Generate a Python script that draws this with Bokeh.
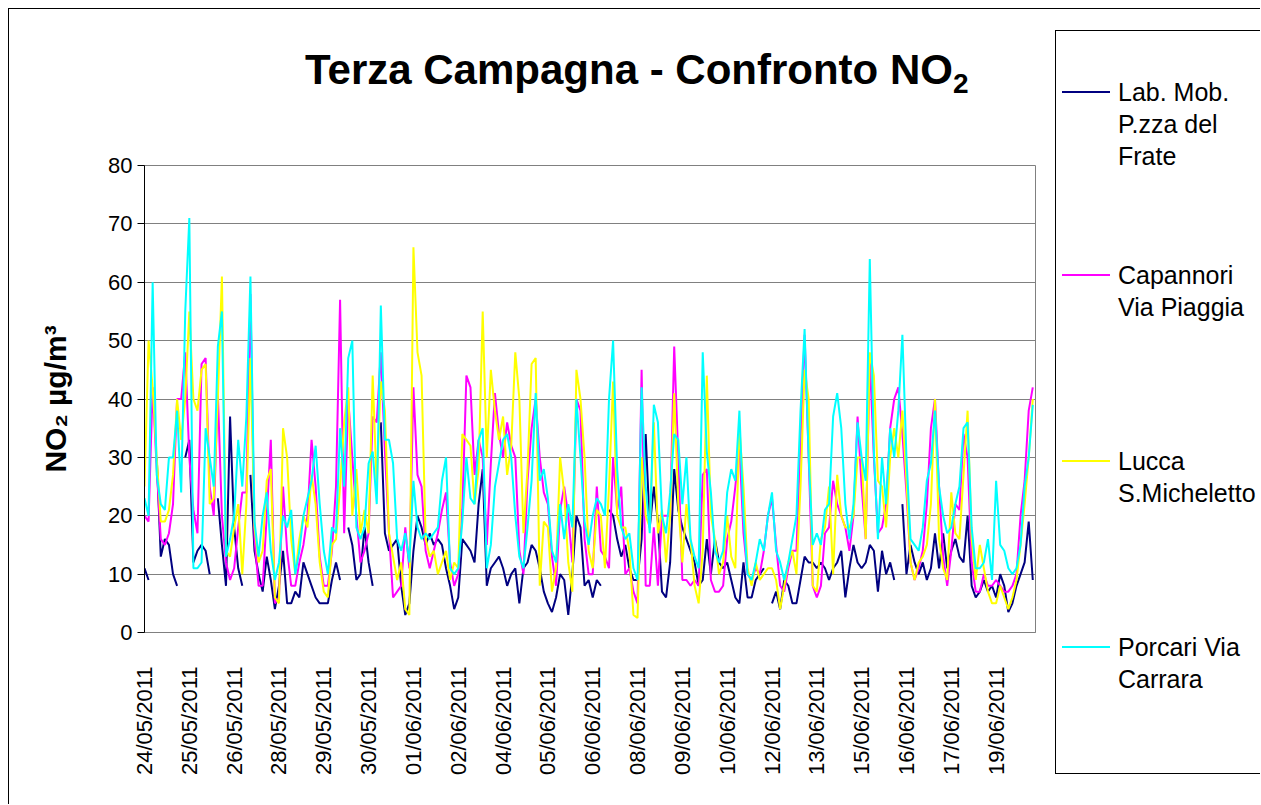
import numpy as np
from math import pi
from bokeh.plotting import figure
from bokeh.models import Range1d, FixedTicker, Div
from bokeh.layouts import row, column
from bokeh.embed import file_html
from bokeh.resources import INLINE

nan = float("nan")

# ---------------- data ----------------
title_main = "Terza Campagna - Confronto NO"
title_sub = "2"
y_label = "NO\u2082 \u00b5g/m\u00b3"

tick_labels = ["24/05/2011", "25/05/2011", "26/05/2011", "28/05/2011", "29/05/2011",
               "30/05/2011", "01/06/2011", "02/06/2011", "04/06/2011", "05/06/2011",
               "06/06/2011", "08/06/2011", "09/06/2011", "10/06/2011", "12/06/2011",
               "13/06/2011", "15/06/2011", "16/06/2011", "17/06/2011", "19/06/2011"]
label_every_hours = 33      # one date label every 33 hourly categories
sample_step_hours = 3       # values read every 3 hours
y_ticks = [0, 10, 20, 30, 40, 50, 60, 70, 80]

series_names = [["Lab. Mob.", "P.zza del", "Frate"],
                ["Capannori", "Via Piaggia"],
                ["Lucca", "S.Micheletto"],
                ["Porcari Via", "Carrara"]]
colors = ["#000080", "#FF00FF", "#FFFF00", "#00FFFF"]

lab_mob = [11, 9, nan, 30, 13, 16, 15, 10, 8, nan,
           30, 33, 12, 14, 15, 14, 10, nan, 23, 15,
           8, 37, 18, 11, 8, nan, 27, 14, 10, 7,
           13, 9, 4, 8, 14, 5, 5, 7, 6, 12,
           10, 8, 6, 5, 5, 5, 9, 12, 9, nan,
           18, 15, 9, 10, 18, 12, 8, nan, 36, 17,
           14, 15, 16, 8, 3, 5, 14, 20, 18, 15,
           17, 15, 16, 15, 11, 8, 4, 6, 16, 15,
           14, 12, 22, 28, 8, 11, 12, 13, 11, 8,
           10, 11, 5, 11, 12, 15, 14, 11, 7, 5,
           3.5, 6, 10, 9, 3, 10, 20, 18, 8, 9,
           6, 9, 8, nan, 21, 20, 16, 13, 15, 11,
           9, 9, 16, 34, 18, 25, 19, 7, 6, 12,
           28, 21, 18, 16, 14, 12, 8, 9, 16, 10,
           16, 12, 11, 12, 9, 6, 5, 12, 6, 6,
           9, 10, 11, nan, 5, 7, 4, 9, 8, 5,
           5, 9, 13, 12, 12, 11, 12, 11, 9, 11,
           12, 14, 6, 11, 15, 12, 11, 12, 15, 14,
           7, 14, 10, 12, 9, nan, 22, 10, 15, 12,
           10, 12, 9, 11, 17, 11, 17, 11, 14, 16,
           13, 12, 20, 8, 6, 7, 9, 7, 8, 6,
           10, 8, 3.5, 5, 8, 10, 12, 19, 9]

capannori = [20, 19, 42, 28, 16, 15, 17, 22, 40, 40,
             48, 30, 21, 17, 46, 47, 25, 20, 41, 20,
             12, 9, 11, 18, 24, 24, 58, 16, 8, 8,
             20, 33, 5, 6, 25, 14, 8, 8, 12, 15,
             20, 33, 25, 13, 8, 8, 14, 25, 57, 17,
             40, 30, 20, 12, 14, 17, 37, 36, 48, 31,
             17, 6, 7, 8, 18, 11, 42, 27, 25, 14,
             11, 14, 17, 21, 24, 12, 8, 10, 21, 44,
             42, 27, 33, 30, 15, 29, 41, 34, 30, 36,
             32, 30, 14, 10, 26, 35, 40, 30, 24, 22,
             13, 8, 21, 25, 20, 12, 40, 38, 16, 10,
             10, 25, 14, 13, 11, 30, 21, 25, 10, 11,
             7, 5, 45, 8, 8, 18, 8, 20, 20, 20,
             49, 30, 9, 9, 8, 9, 8, 27, 28, 9,
             7, 7, 8, 16, 19, 25, 32, 17, 10, 9,
             11, 10, 14, 20, 23, 15, 8, 7, 11, 14,
             14, 33, 51, 30, 8, 6, 8, 17, 18, 26,
             22, 20, 18, 14, 20, 37, 25, 16, 47, 30,
             17, 18, 22, 35, 40, 42, 34, 24, 12, 9,
             11, 14, 22, 35, 40, 25, 13, 8, 14, 22,
             21, 34, 30, 12, 7, 7, 10, 8, 8, 9,
             8, 7, 7, 8, 10, 20, 26, 38, 42]

lucca = [25, 50, 42, 30, 19, 19, 21, 27, 40, 33,
         40, 55, 40, 38, 45, 46, 22, 23, 40, 61,
         14, 13, 18, 22, 10, 22, 47, 18, 12, 14,
         26, 28, 6, 5, 35, 30, 16, 10, 16, 20,
         18, 27, 22, 12, 7, 6, 15, 16, 25, 36,
         42, 20, 28, 17, 21, 17, 44, 25, 43, 38,
         17, 13, 9, 12, 4, 3, 66, 48, 44, 16,
         13, 14, 10, 12, 14, 9, 12, 11, 34, 33,
         32, 22, 28, 55, 30, 45, 38, 33, 37, 27,
         32, 48, 40, 17, 28, 46, 47, 8, 19, 18,
         7, 11, 30, 24, 12, 7, 45, 40, 30, 14,
         11, 21, 20, 11, 25, 43, 20, 18, 18, 14,
         3, 2.5, 30, 20, 18, 36, 17, 21, 12, 20,
         41, 22, 12, 22, 16, 8, 5, 14, 44, 20,
         16, 10, 12, 20, 13, 11, 35, 25, 11, 8,
         12, 9, 10, 11, 11, 9, 4, 8, 12, 14,
         10, 25, 45, 40, 8, 7, 16, 18, 25, 10,
         27, 20, 18, 18, 20, 30, 30, 16, 48, 44,
         26, 25, 18, 30, 35, 30, 38, 26, 12, 9,
         12, 13, 15, 22, 40, 16, 11, 9, 24, 17,
         16, 27, 38, 16, 9, 15, 11, 7, 5, 5,
         8, 6, 4, 6, 9, 15, 22, 30, 40]

porcari = [23, 20, 60, 27, 22, 21, 30, 30, 38, 24,
           55, 71, 11, 11, 12, 35, 30, 25, 49, 55,
           13, 16, 20, 33, 25, 37, 61, 19, 13, 20,
           24, 14, 9, 12, 20, 18, 21, 10, 14, 20,
           23, 26, 32, 22, 14, 10, 18, 17, 35, 25,
           47, 50, 18, 16, 18, 29, 31, 22, 56, 33,
           33, 29, 16, 14, 17, 12, 26, 18, 16, 17,
           16, 17, 18, 26, 30, 11, 10, 11, 19, 30,
           23, 22, 33, 35, 11, 15, 25, 29, 33, 34,
           30, 20, 13, 11, 18, 26, 41, 26, 28, 23,
           14, 12, 22, 16, 22, 18, 40, 30, 19, 15,
           20, 23, 22, 20, 40, 50, 28, 18, 16, 17,
           11, 9, 42, 25, 17, 39, 36, 20, 17, 24,
           34, 33, 22, 30, 16, 13, 11, 48, 31, 24,
           14, 12, 14, 24, 28, 26, 38, 20, 10, 9,
           12, 16, 14, 20, 24, 14, 12, 9, 12, 16,
           20, 38, 52, 30, 15, 17, 15, 21, 22, 37,
           41, 35, 22, 16, 22, 36, 30, 26, 64, 31,
           16, 30, 22, 35, 30, 38, 51, 30, 16, 15,
           14, 18, 26, 29, 38, 25, 20, 17, 18, 22,
           25, 35, 36, 18, 11, 11, 12, 16, 9, 26,
           15, 14, 11, 10, 11, 15, 25, 30, 39]

series = [lab_mob, capannori, lucca, porcari]

# ---------------- main chart ----------------
FONT = "Liberation Sans"
CSS_FONT = "'Liberation Sans',Arial,sans-serif"
hours_total = 656
title_h = 100
total_h = 795
legend_w = 205

p = figure(width=1046, height=total_h - title_h, output_backend="svg", toolbar_location=None,
           x_range=Range1d(0, hours_total), y_range=Range1d(0, 80),
           min_border_left=135, min_border_right=20,
           min_border_top=156 - title_h, min_border_bottom=total_h - 623)
p.title.text = ""
p.background_fill_color = "white"
p.border_fill_color = "white"
p.outline_line_color = "#808080"
p.outline_line_width = 1

for vals, col in zip(series, colors):
    hrs = np.arange(len(vals)) * sample_step_hours
    p.line(x=hrs, y=np.array(vals, dtype=float), line_color=col, line_width=2)

tick_hours = [i * label_every_hours for i in range(len(tick_labels))]
p.xaxis.ticker = FixedTicker(ticks=tick_hours)
p.xaxis.major_label_overrides = {t: lab for t, lab in zip(tick_hours, tick_labels)}
p.xaxis.major_label_orientation = pi / 2
p.xaxis.major_tick_line_color = None
p.xaxis.minor_tick_line_color = None
p.xaxis.axis_line_color = "#808080"
p.xaxis.major_label_standoff = 28
p.xaxis.major_label_text_font = FONT
p.xaxis.major_label_text_font_size = "22px"
p.xaxis.major_label_text_color = "black"

p.yaxis.ticker = FixedTicker(ticks=y_ticks)
p.yaxis.major_tick_out = 7
p.yaxis.major_tick_in = 0
p.yaxis.minor_tick_line_color = None
p.yaxis.axis_line_color = "black"
p.yaxis.major_tick_line_color = "black"
p.yaxis.major_label_standoff = 5
p.yaxis.major_label_text_font = FONT
p.yaxis.major_label_text_font_size = "22px"
p.yaxis.major_label_text_color = "black"
p.yaxis.axis_label = y_label
p.yaxis.axis_label_text_font = FONT
p.yaxis.axis_label_text_font_size = "30px"
p.yaxis.axis_label_text_font_style = "bold"
p.yaxis.axis_label_text_color = "black"
p.yaxis.axis_label_standoff = 33

p.xgrid.visible = False
p.ygrid.grid_line_color = "#808080"
p.ygrid.grid_line_width = 1

# ---------------- title (HTML, with a true subscript) ----------------
title_html = ('<div style="position:relative;width:1046px;height:%dpx;font-family:%s;'
              'font-weight:bold;color:#000;">'
              '<div style="position:absolute;left:296px;top:40px;font-size:42px;line-height:42px;'
              'white-space:nowrap;">%s<span style="font-size:28px;position:relative;top:9px;">%s</span>'
              '</div></div>') % (title_h, CSS_FONT, title_main, title_sub)
title_div = Div(text=title_html, width=1046, height=title_h, margin=0)

# ---------------- legend panel (HTML) ----------------
item_tops = [67, 250, 436, 622]
parts = ['<div style="position:relative;width:%dpx;height:%dpx;overflow:hidden;'
         'font-family:%s;font-size:25px;color:#000;">' % (legend_w, total_h, CSS_FONT),
         '<div style="position:absolute;left:0px;top:21px;width:240px;height:744px;'
         'border:1px solid #000;border-right:none;background:#fff;"></div>']
for top, lines, col in zip(item_tops, series_names, colors):
    parts.append('<div style="position:absolute;left:7px;top:%dpx;width:48px;height:0;'
                 'border-top:2px solid %s;"></div>' % (top + 15, col))
    parts.append('<div style="position:absolute;left:63px;top:%dpx;line-height:32px;'
                 'white-space:nowrap;">%s</div>' % (top, "<br>".join(lines)))
parts.append('</div>')
legend_div = Div(text="".join(parts), width=legend_w, height=total_h, margin=0)

left_col = column(title_div, p, spacing=0)
layout = row(left_col, legend_div, spacing=0,
             styles={"margin-left": "8px", "margin-top": "8px",
                     "border-top": "1px solid #000000", "border-left": "1px solid #000000"})

open("out.html", "w").write(file_html(layout, INLINE, title="Terza Campagna - Confronto NO2"))
